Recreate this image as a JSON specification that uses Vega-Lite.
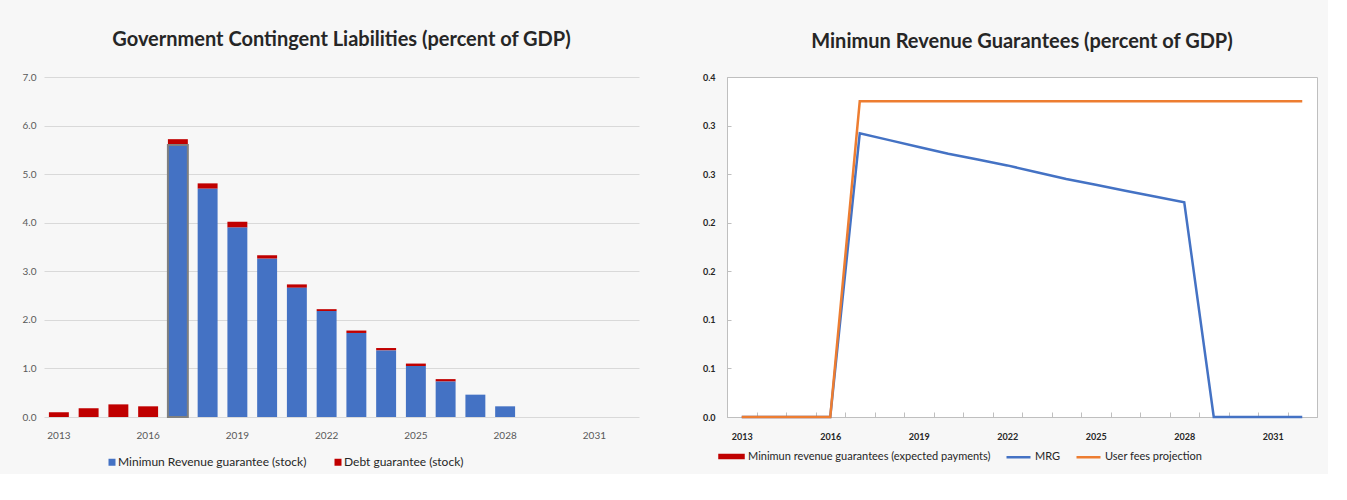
{
  "$schema": "https://vega.github.io/schema/vega-lite/v6.json",
  "background": "#f7f7f7",
  "padding": {"left": 22, "top": 30, "right": 10, "bottom": 5},
  "config": {"font": "Lato", "view": {"stroke": null}},
  "bounds": "flush",
  "spacing": 88,
  "resolve": {"scale": {"color": "independent"}, "legend": {"color": "independent"}},
  "datasets": {
    "bars": [
      {"year": 2013, "series": "Debt guarantee (stock)", "value": 0.10},
      {"year": 2014, "series": "Debt guarantee (stock)", "value": 0.18},
      {"year": 2015, "series": "Debt guarantee (stock)", "value": 0.26},
      {"year": 2016, "series": "Debt guarantee (stock)", "value": 0.22},
      {"year": 2017, "series": "Debt guarantee (stock)", "value": 0.12},
      {"year": 2018, "series": "Debt guarantee (stock)", "value": 0.11},
      {"year": 2019, "series": "Debt guarantee (stock)", "value": 0.12},
      {"year": 2020, "series": "Debt guarantee (stock)", "value": 0.07},
      {"year": 2021, "series": "Debt guarantee (stock)", "value": 0.07},
      {"year": 2022, "series": "Debt guarantee (stock)", "value": 0.04},
      {"year": 2023, "series": "Debt guarantee (stock)", "value": 0.05},
      {"year": 2024, "series": "Debt guarantee (stock)", "value": 0.05},
      {"year": 2025, "series": "Debt guarantee (stock)", "value": 0.05},
      {"year": 2026, "series": "Debt guarantee (stock)", "value": 0.05},
      {"year": 2017, "series": "Minimun Revenue guarantee (stock)", "value": 5.60},
      {"year": 2018, "series": "Minimun Revenue guarantee (stock)", "value": 4.70},
      {"year": 2019, "series": "Minimun Revenue guarantee (stock)", "value": 3.90},
      {"year": 2020, "series": "Minimun Revenue guarantee (stock)", "value": 3.26},
      {"year": 2021, "series": "Minimun Revenue guarantee (stock)", "value": 2.66},
      {"year": 2022, "series": "Minimun Revenue guarantee (stock)", "value": 2.18},
      {"year": 2023, "series": "Minimun Revenue guarantee (stock)", "value": 1.73},
      {"year": 2024, "series": "Minimun Revenue guarantee (stock)", "value": 1.37},
      {"year": 2025, "series": "Minimun Revenue guarantee (stock)", "value": 1.05},
      {"year": 2026, "series": "Minimun Revenue guarantee (stock)", "value": 0.73},
      {"year": 2027, "series": "Minimun Revenue guarantee (stock)", "value": 0.46},
      {"year": 2028, "series": "Minimun Revenue guarantee (stock)", "value": 0.22}
    ],
    "lines": [
      {"year": 2013, "series": "MRG", "value": 0},
      {"year": 2014, "series": "MRG", "value": 0},
      {"year": 2015, "series": "MRG", "value": 0},
      {"year": 2016, "series": "MRG", "value": 0},
      {"year": 2017, "series": "MRG", "value": 0.292},
      {"year": 2018, "series": "MRG", "value": 0.285},
      {"year": 2019, "series": "MRG", "value": 0.278},
      {"year": 2020, "series": "MRG", "value": 0.271},
      {"year": 2021, "series": "MRG", "value": 0.265},
      {"year": 2022, "series": "MRG", "value": 0.259},
      {"year": 2023, "series": "MRG", "value": 0.252},
      {"year": 2024, "series": "MRG", "value": 0.245},
      {"year": 2025, "series": "MRG", "value": 0.239},
      {"year": 2026, "series": "MRG", "value": 0.233},
      {"year": 2027, "series": "MRG", "value": 0.227},
      {"year": 2028, "series": "MRG", "value": 0.221},
      {"year": 2029, "series": "MRG", "value": 0},
      {"year": 2030, "series": "MRG", "value": 0},
      {"year": 2031, "series": "MRG", "value": 0},
      {"year": 2032, "series": "MRG", "value": 0},
      {"year": 2013, "series": "User fees projection", "value": 0},
      {"year": 2014, "series": "User fees projection", "value": 0},
      {"year": 2015, "series": "User fees projection", "value": 0},
      {"year": 2016, "series": "User fees projection", "value": 0},
      {"year": 2017, "series": "User fees projection", "value": 0.325},
      {"year": 2018, "series": "User fees projection", "value": 0.325},
      {"year": 2019, "series": "User fees projection", "value": 0.325},
      {"year": 2020, "series": "User fees projection", "value": 0.325},
      {"year": 2021, "series": "User fees projection", "value": 0.325},
      {"year": 2022, "series": "User fees projection", "value": 0.325},
      {"year": 2023, "series": "User fees projection", "value": 0.325},
      {"year": 2024, "series": "User fees projection", "value": 0.325},
      {"year": 2025, "series": "User fees projection", "value": 0.325},
      {"year": 2026, "series": "User fees projection", "value": 0.325},
      {"year": 2027, "series": "User fees projection", "value": 0.325},
      {"year": 2028, "series": "User fees projection", "value": 0.325},
      {"year": 2029, "series": "User fees projection", "value": 0.325},
      {"year": 2030, "series": "User fees projection", "value": 0.325},
      {"year": 2031, "series": "User fees projection", "value": 0.325},
      {"year": 2032, "series": "User fees projection", "value": 0.325}
    ]
  },
  "hconcat": [
    {
      "width": 595,
      "height": 340,
      "title": {"text": "Government Contingent Liabilities (percent of GDP)", "fontSize": 20, "fontWeight": "bold", "color": "#262626", "offset": 22, "anchor": "middle"},
      "data": {"name": "bars"},
      "mark": {"type": "bar"},
      "encoding": {
        "x": {
          "field": "year", "type": "ordinal",
          "scale": {"domain": [2013,2014,2015,2016,2017,2018,2019,2020,2021,2022,2023,2024,2025,2026,2027,2028,2029,2030,2031,2032], "paddingInner": 0.33, "paddingOuter": 0.165},
          "axis": {"values": [2013,2016,2019,2022,2025,2028,2031], "title": null, "labelAngle": 0, "ticks": false, "domain": false, "labelFontSize": 10, "labelColor": "#595959", "labelPadding": 13}
        },
        "y": {
          "field": "value", "type": "quantitative", "stack": "zero",
          "scale": {"domain": [0, 7]},
          "axis": {"values": [0,1,2,3,4,5,6,7], "format": ".1f", "title": null, "domain": false, "ticks": false, "gridColor": "#d9d9d9", "labelFontSize": 10, "labelColor": "#595959", "labelPadding": 8}
        },
        "color": {
          "field": "series", "type": "nominal",
          "scale": {"domain": ["Minimun Revenue guarantee (stock)", "Debt guarantee (stock)"], "range": ["#4472c4", "#c00000"]},
          "legend": {"title": null, "orient": "none", "legendX": 62, "legendY": 379, "direction": "horizontal", "padding": 0, "symbolType": "square", "symbolSize": 49, "labelFontSize": 12, "labelColor": "#262626", "labelOffset": 0, "columnPadding": 24, "labelLimit": 400}
        },
        "order": {"field": "series", "sort": "descending"},
        "stroke": {"condition": {"test": "datum.year == 2017 && datum.series == 'Minimun Revenue guarantee (stock)'", "value": "#808080"}, "value": "transparent"},
        "strokeWidth": {"value": 2}
      }
    },
    {
      "width": 590,
      "height": 340,
      "view": {"stroke": "#bfbfbf", "fill": "#ffffff"},
      "title": {"text": "Minimun Revenue Guarantees (percent of GDP)", "fontSize": 20, "fontWeight": "bold", "color": "#262626", "offset": 21, "anchor": "middle"},
      "data": {"name": "lines"},
      "mark": {"type": "line", "strokeWidth": 2.5},
      "encoding": {
        "x": {
          "field": "year", "type": "ordinal",
          "scale": {"type": "point", "domain": [2013,2014,2015,2016,2017,2018,2019,2020,2021,2022,2023,2024,2025,2026,2027,2028,2029,2030,2031,2032], "padding": 0.5},
          "axis": {"title": null, "labelAngle": 0, "labelExpr": "datum.value % 3 == 0 ? datum.label : ''", "tickOffset": 14.75, "labelOffset": -14.75, "tickSize": -5, "tickColor": "#bfbfbf", "domainColor": "#bfbfbf", "labelFontSize": 9, "labelFontWeight": "bold", "labelColor": "#262626", "labelPadding": 20}
        },
        "y": {
          "field": "value", "type": "quantitative",
          "scale": {"domain": [0, 0.35]},
          "axis": {"values": [0,0.05,0.1,0.15,0.2,0.25,0.3,0.35], "labelExpr": "format(round(datum.value*10)/10, '.1f')", "grid": false, "title": null, "tickSize": -4, "tickColor": "#bfbfbf", "domainColor": "#bfbfbf", "labelFontSize": 9, "labelFontWeight": "bold", "labelColor": "#262626", "labelPadding": 16}
        },
        "color": {
          "field": "series", "type": "nominal",
          "scale": {"domain": ["Minimun revenue guarantees (expected payments)", "MRG", "User fees projection"], "range": ["#c00000", "#4472c4", "#ed7d31"]},
          "legend": {
            "title": null, "orient": "none", "legendX": -9, "legendY": 366, "direction": "horizontal", "padding": 0,
            "symbolSize": 576, "labelFontSize": 11, "labelColor": "#262626", "labelOffset": 3, "columnPadding": 10, "labelLimit": 400,
            "encode": {"symbols": {"update": {
              "shape": {"signal": "datum.value === 'Minimun revenue guarantees (expected payments)' ? 'M-1,-0.125H1V0.125H-1Z' : 'M-1,0H1'"},
              "fill": {"signal": "datum.value === 'Minimun revenue guarantees (expected payments)' ? '#c00000' : 'transparent'"},
              "stroke": {"signal": "datum.value === 'MRG' ? '#4472c4' : (datum.value === 'User fees projection' ? '#ed7d31' : 'transparent')"},
              "strokeWidth": {"value": 2.5},
              "opacity": {"value": 1}
            }}}
          }
        }
      }
    }
  ]
}
